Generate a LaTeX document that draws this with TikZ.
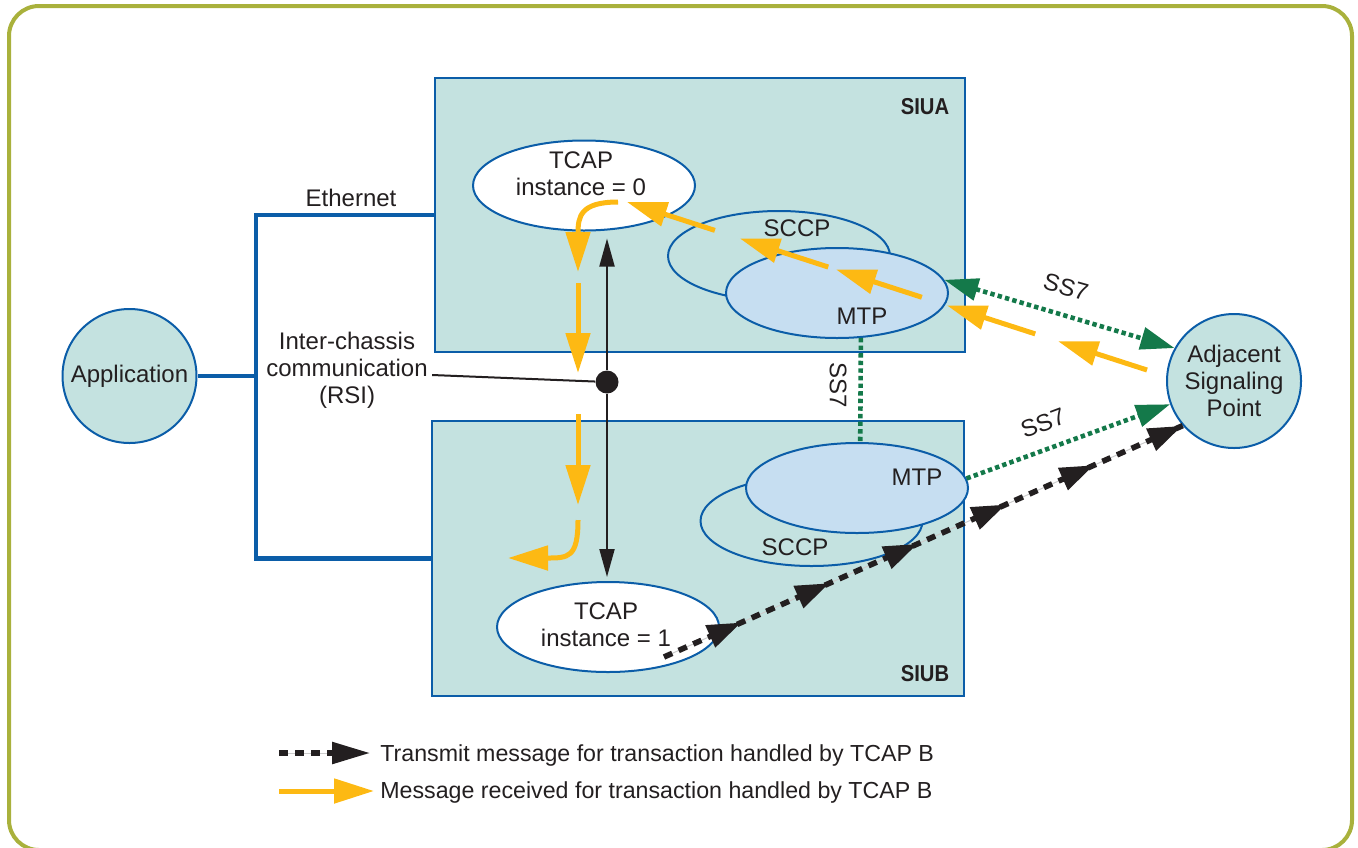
\documentclass[tikz,border=0pt]{standalone}
\usepackage{fontspec}
\setmainfont{Liberation Sans}
\usetikzlibrary{arrows.meta,shapes.geometric,decorations.markings,calc}
\definecolor{frame9}{HTML}{A9B13C}
\definecolor{teal9}{HTML}{C4E2E0}
\definecolor{blue9}{HTML}{0B5DA8}
\definecolor{mtp9}{HTML}{C6DEF1}
\definecolor{orange9}{HTML}{FDB913}
\definecolor{green9}{HTML}{14794A}
\definecolor{ink9}{HTML}{231F20}
\tikzset{
  orangehead/.tip={Triangle[length=20pt,width=12pt]},
  blackhead/.tip={Triangle[length=17pt,width=11.5pt]},
  greenhead/.tip={Triangle[length=17pt,width=11pt]},
  rsihead/.tip={Triangle[length=14pt,width=7.5pt]},
  txt/.style={text=ink9,font=\fontsize{12}{13.5}\selectfont,inner sep=0pt,align=center},
  unit/.style={text=ink9,font=\fontsize{11.5}{14}\selectfont\bfseries,inner sep=0pt},
  chassis/.style={draw=blue9,line width=1pt,fill=teal9,rectangle,inner sep=0pt},
  layer/.style={draw=blue9,line width=1pt,ellipse,inner sep=0pt,minimum width=111pt,minimum height=45pt},
  point/.style={draw=blue9,line width=1pt,fill=teal9,circle,inner sep=0pt,minimum size=67pt},
  eth/.style={blue9,line width=2.4pt},
  recv/.style={orange9,line width=2.5pt,-{orangehead}},
  ss7/.style={green9,line width=2.3pt,dash pattern=on 2.2pt off 1.6pt},
  send/.style={ink9,line width=2.8pt,dash pattern=on 4.5pt off 3.5pt,
    preaction={draw=black!20,line width=0.5pt,solid}},
  sendmarks/.style={postaction={decorate,decoration={markings,
    mark=between positions 0.149 and 1 step 0.17 with {\arrow{blackhead}}}}},
  rsi/.style={ink9,line width=1pt,-{rsihead}}
}

\begin{document}
\begin{tikzpicture}[x=0.5pt,y=-0.5pt]
\useasboundingbox (0,0) rectangle (1358,847);
\draw [frame9,line width=2pt,rounded corners=15pt] (9,6) rectangle (1352,850);

\node [chassis,minimum width=265pt,minimum height=137pt] (siua) at (700,215) {};
\node [chassis,minimum width=266pt,minimum height=137.5pt] (siub) at (698,558.5) {};
\node [unit] (siual) at (925,107) {\scalebox{0.88}[1]{SIUA}};
\node [unit] (siubl) at (925,674) {\scalebox{0.88}[1]{SIUB}};

\node [point,txt] (app) at (129.5,376) {Application};
\node [point,txt] (asp) at (1234,381) {Adjacent\\Signaling\\Point};
\coordinate (bus) at (256,376);
\draw [eth] (siua.west) -| (bus) |- (siub.west);
\draw [eth] (app) -- (bus);
\node [txt] (ethl) at (351,198) {Ethernet};

\node [layer,fill=teal9] (sccpA) at (779,256) {};
\node [layer,fill=mtp9] (mtpA) at (837,293) {};
\node [layer,fill=white] (tcapA) at (584,185.5) {};
\node [layer,fill=teal9] (sccpB) at (811.5,521) {};
\node [layer,fill=mtp9] (mtpB) at (857,488) {};
\node [layer,fill=white] (tcapB) at (608,627) {};
\node [txt] (tcapAl) at (581,173.5) {TCAP\\instance = 0};
\node [txt] (tcapBl) at (606,625) {TCAP\\instance = 1};
\node [txt] (sccpAl) at (797,228) {SCCP};
\node [txt] (mtpAl) at (862,316) {MTP};
\node [txt] (sccpBl) at (795,547) {SCCP};
\node [txt] (mtpBl) at (917,477) {MTP};

\node [txt] (icc) at (347,370) {Inter-chassis\\communication\\(RSI)};
\node [circle,fill=ink9,inner sep=0pt,minimum size=11.5pt] (dot) at (607,382) {};
\draw [ink9,line width=1pt] ([xshift=2pt,yshift=-2.5pt]icc.east) -- (dot);
\draw [rsi,shorten >=3.5pt] (dot) -- (dot |- tcapA.south);
\draw [rsi,shorten >=2pt] (dot) -- (dot |- tcapB.north);

\draw [ss7] (mtpA.-62) -- (mtpB.86);
\node [txt,rotate=-90] (ss7b) at (838,385) {SS7};
\draw [ss7,{greenhead}-{greenhead}] (mtpA.7) -- (asp.151);
\node [txt,rotate=-15.8] (ss7a) at (1066,287) {SS7};
\draw [ss7,-{greenhead}] (mtpB.5) -- (asp.200);
\node [txt,rotate=20.5] (ss7c) at (1043,423) {SS7};

\coordinate (rx0) at (1147,370);
\coordinate (rx1) at (627,202);
\foreach \s/\e in {0/0.171,0.215/0.385,0.433/0.598,0.613/0.783,0.831/1}
  \draw [recv] ($(rx0)!\s!(rx1)$) -- ($(rx0)!\e!(rx1)$);
\coordinate (ra0) at (618,202);
\coordinate (ra1) at (578,272);
\coordinate (rb0) at (578,283);
\coordinate (rb1) at (578,373);
\coordinate (rc0) at (578,414);
\coordinate (rc1) at (578,505);
\coordinate (rd0) at (578,520);
\coordinate (rd1) at (508,558);
\draw [recv] (ra0) .. controls +(-38,0) and +(0,-55) .. (ra1);
\draw [recv] (rb0) -- (rb1);
\draw [recv] (rc0) -- (rc1);
\draw [recv] (rd0) .. controls +(0,38) and +(60,0) .. (rd1);

\coordinate (txs) at (664,657);
\draw [send,sendmarks] (txs) -- (asp.221);

\coordinate (keysend0) at (279,753);
\coordinate (keysend1) at (370,753);
\draw [send,-{Triangle[length=19pt,width=10.5pt]}] (keysend0) -- (keysend1);
\node [txt,anchor=west,font=\fontsize{11.6}{13.5}\selectfont] (keysendl) at (380,755) {Transmit message for transaction handled by TCAP B};
\coordinate (keyrecv0) at (279,791);
\coordinate (keyrecv1) at (374,791);
\draw [recv] (keyrecv0) -- (keyrecv1);
\node [txt,anchor=west,font=\fontsize{11.6}{13.5}\selectfont] (keyrecvl) at (380,792) {Message received for transaction handled by TCAP B};
\end{tikzpicture}
\end{document}
